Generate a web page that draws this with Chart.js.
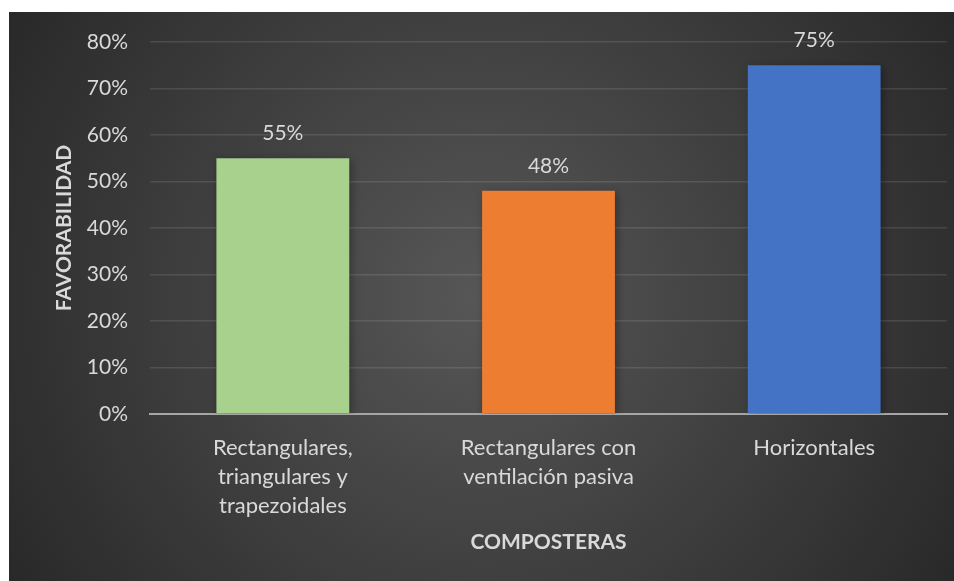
<!DOCTYPE html>
<html>
<head>
<meta charset="utf-8">
<style>
  html, body { margin: 0; padding: 0; background: #ffffff; }
  #wrap { position: absolute; left: 9px; top: 12px; width: 945px; height: 569px; }
</style>
</head>
<body>
<div id="wrap"><canvas id="myChart"></canvas></div>
<script src="https://cdn.jsdelivr.net/npm/chart.js@4.4.1/dist/chart.umd.min.js"></script>
<script>
    // categories, values and tick labels
    const categories = [
        ['Rectangulares,', 'triangulares y', 'trapezoidales'],
        ['Rectangulares con', 'ventilación pasiva'],
        'Horizontales'
    ]
    const favorabilidad = [55, 48, 75]
    const barColors = ['#a9d18e', '#ed7d31', '#4472c4']
    const yTicks = [0, 10, 20, 30, 40, 50, 60, 70, 80]

    const textColor = '#d9d9d9'
    const fontFamily = 'Lato, "Open Sans", sans-serif'

    // dark radial backdrop behind everything
    const backdrop = {
        id: 'backdrop',
        beforeDraw(chart) {
            const { ctx, width, height } = chart
            const g = ctx.createRadialGradient(width * 0.5, height * 0.5, 0, width * 0.5, height * 0.5, width * 0.62)
            g.addColorStop(0, '#575757')
            g.addColorStop(1, '#262626')
            ctx.save()
            ctx.fillStyle = g
            ctx.fillRect(0, 0, width, height)
            ctx.restore()
        }
    }

    // soft shadow under the bars
    const barShadow = {
        id: 'barShadow',
        beforeDatasetsDraw(chart) {
            const ctx = chart.ctx
            ctx.save()
            ctx.shadowColor = 'rgba(0,0,0,0.35)'
            ctx.shadowBlur = 8
            ctx.shadowOffsetX = 2
            ctx.shadowOffsetY = 2
        },
        afterDatasetsDraw(chart) {
            chart.ctx.restore()
        }
    }

    // percentage printed above each bar
    const valueLabels = {
        id: 'valueLabels',
        afterDatasetsDraw(chart) {
            const ctx = chart.ctx
            const meta = chart.getDatasetMeta(0)
            ctx.save()
            ctx.fillStyle = textColor
            ctx.font = '21px ' + fontFamily
            ctx.textAlign = 'center'
            ctx.textBaseline = 'alphabetic'
            meta.data.forEach((bar, i) => {
                ctx.fillText(favorabilidad[i] + '%', bar.x, bar.y - 18)
            })
            ctx.restore()
        }
    }

    const ctx = document.getElementById('myChart')
    const myChart = new Chart(ctx, {
        type: 'bar',
        data: {
            labels: categories,
            datasets: [{
                label: 'Favorabilidad',
                data: favorabilidad,
                backgroundColor: barColors,
                borderWidth: 0,
                barPercentage: 0.5,
                categoryPercentage: 1
            }]
        },
        options: {
            responsive: true,
            maintainAspectRatio: false,
            animation: false,
            layout: { padding: { top: 30, right: 7, left: 0, bottom: 0 } },
            plugins: {
                legend: { display: false },
                tooltip: { enabled: false }
            },
            scales: {
                x: {
                    afterFit(scale) { scale.height = 167 },
                    grid: { display: false },
                    border: { color: '#a6a6a6', width: 2 },
                    ticks: {
                        color: textColor,
                        padding: 12,
                        maxRotation: 0,
                        font: { family: fontFamily, size: 22, lineHeight: 1.3 }
                    },
                    title: {
                        display: true,
                        text: 'COMPOSTERAS',
                        color: textColor,
                        padding: { top: 0, bottom: 26 },
                        font: { family: fontFamily, size: 21, weight: 'bold' }
                    }
                },
                y: {
                    min: 0,
                    max: 80,
                    afterFit(scale) {
                        scale.width = 141
                        // tick padding would otherwise push the plot down
                        scale.paddingTop = 12
                        scale.paddingBottom = 12
                    },
                    afterBuildTicks(scale) {
                        scale.ticks = yTicks.map(v => ({ value: v }))
                    },
                    grid: {
                        color: 'rgba(255,255,255,0.11)',
                        lineWidth: 1.5,
                        drawTicks: false
                    },
                    border: { display: false },
                    ticks: {
                        color: textColor,
                        padding: 22,
                        font: { family: fontFamily, size: 21 },
                        callback: v => v + '%'
                    },
                    title: {
                        display: true,
                        text: 'FAVORABILIDAD',
                        color: textColor,
                        padding: { top: 43, bottom: 0 },
                        font: { family: fontFamily, size: 21, weight: 'bold' }
                    }
                }
            }
        },
        plugins: [backdrop, barShadow, valueLabels]
    })
</script>
</body>
</html>
